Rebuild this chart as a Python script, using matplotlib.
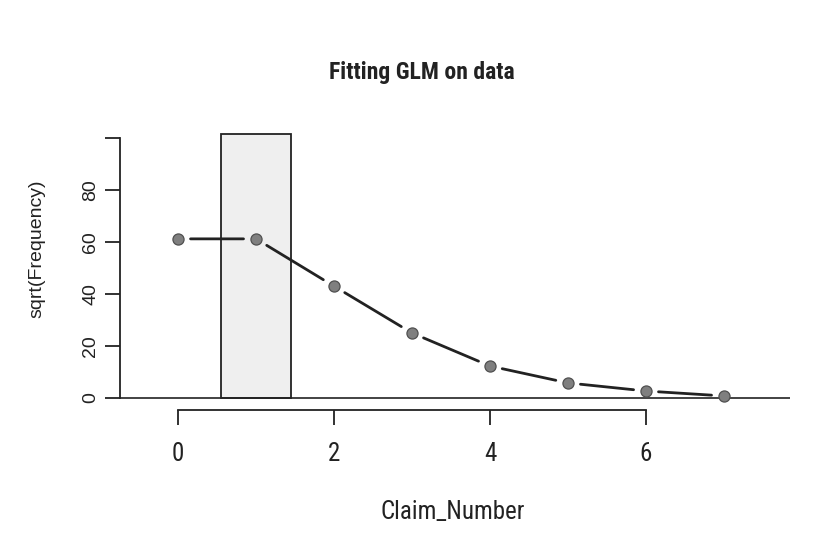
import matplotlib
matplotlib.use("Agg")
import matplotlib.pyplot as plt

# claim counts and fitted sqrt-frequencies
claim_number = [0, 1, 2, 3, 4, 5, 6, 7]
sqrt_freq = [61.2, 61.2, 43.0, 25.0, 12.3, 5.8, 2.7, 0.8]

# observed bar (only claim 1 shows above the axis)
bar_x = [1]
bar_height = [101.5]

x_ticks = [0, 2, 4, 6]
y_ticks = [0, 20, 40, 60, 80, 100]
y_ticklabels = ['0', '20', '40', '60', '80', '']

INK = '#222222'
FLAT = ['Roboto Condensed', 'Liberation Sans', 'DejaVu Sans']
SIDE = ['Liberation Sans', 'DejaVu Sans']


def main():
    fig = plt.figure(figsize=(8.17, 5.53), dpi=100)
    ax = fig.add_axes([120 / 817, 143 / 553, 670 / 817, 322 / 553])
    ax.set_xlim(-0.744, 7.846)
    ax.set_ylim(-4.6, 119.2)

    ax.bar(bar_x, bar_height, width=0.9, color='#efefef',
           edgecolor=INK, linewidth=1.3, zorder=1)
    ax.axhline(0, color=INK, linewidth=1.2, zorder=2)

    # type="b" style: segments with gaps around the points
    for i in range(len(claim_number) - 1):
        ax.annotate("", xy=(claim_number[i + 1], sqrt_freq[i + 1]),
                    xytext=(claim_number[i], sqrt_freq[i]),
                    arrowprops=dict(arrowstyle='-', shrinkA=9, shrinkB=9,
                                    lw=2.0, color=INK),
                    zorder=3)
    ax.plot(claim_number, sqrt_freq, linestyle='none', marker='o',
            markersize=8, markerfacecolor='#7f7f7f',
            markeredgecolor='#505050', markeredgewidth=0.9, zorder=4)

    for side in ['top', 'right']:
        ax.spines[side].set_visible(False)
    ax.spines['left'].set_bounds(0, 100)
    ax.spines['bottom'].set_bounds(0, 6)
    for side in ['left', 'bottom']:
        ax.spines[side].set_linewidth(1.3)
        ax.spines[side].set_color(INK)

    ax.set_xticks(x_ticks)
    ax.set_yticks(y_ticks)
    ax.set_yticklabels(y_ticklabels)
    ax.tick_params(axis='both', direction='out', length=11, width=1.3,
                   color=INK, labelcolor=INK)
    ax.tick_params(axis='x', pad=12, labelsize=18)
    ax.tick_params(axis='y', pad=4, labelsize=14, labelrotation=90)
    for lab in ax.get_xticklabels():
        lab.set_family(FLAT)
    for lab in ax.get_yticklabels():
        lab.set_va('center')
        lab.set_family(SIDE)

    ax.set_xlabel('Claim_Number', fontsize=18, color=INK, family=FLAT,
                  va='center')
    ax.xaxis.set_label_coords(0.497, -0.318)
    ax.set_ylabel('sqrt(Frequency)', fontsize=14, color=INK, family=SIDE,
                  va='center')
    ax.yaxis.set_label_coords(-0.124, 0.5)

    fig.text(422 / 817, 1 - 73 / 553, 'Fitting GLM on data', ha='center',
             va='center', fontsize=17, fontweight='bold', color=INK,
             family=FLAT)

    fig.savefig('out.png', dpi=100)


if __name__ == "__main__":
    main()
